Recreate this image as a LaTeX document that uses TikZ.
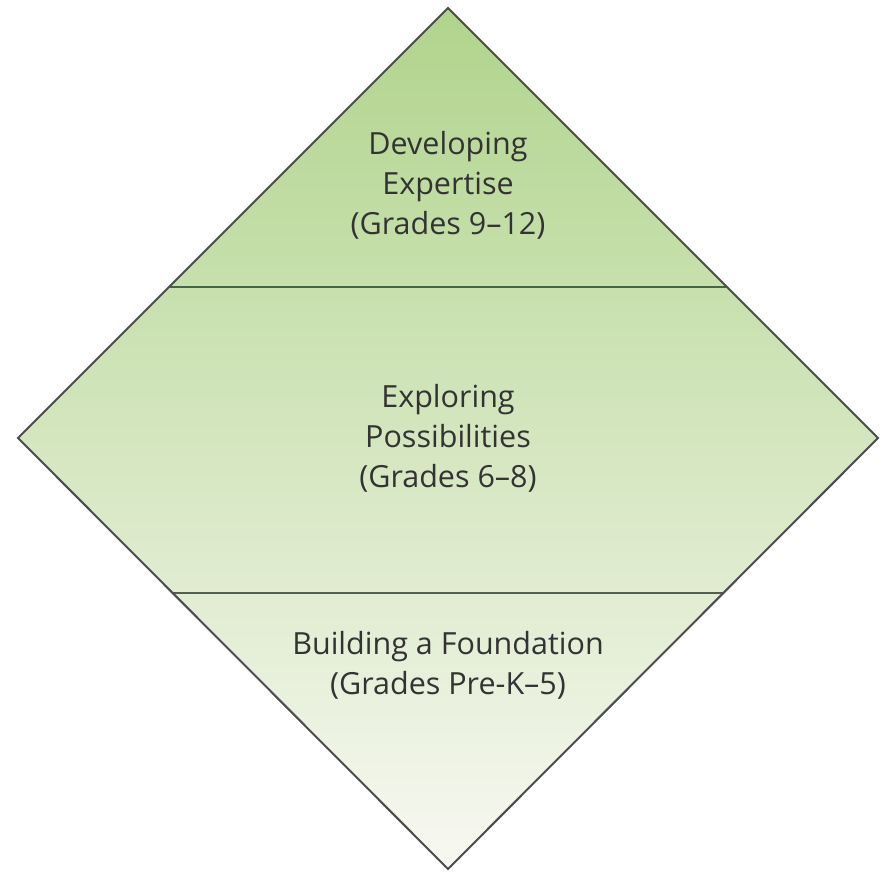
\documentclass[tikz,border=0pt]{standalone}
\usepackage{fontspec}
\setmainfont{Open Sans}
\begin{document}
\begin{tikzpicture}[x=1pt,y=1pt,
  lbl/.style={align=center,text=black!80,font=\fontsize{30.5}{40}\selectfont},
  edge/.style={draw=black!70,line width=2pt,line join=miter}]
\useasboundingbox (0,0) rectangle (884,871);
\fill[white] (0,0) rectangle (884,871);
\coordinate (T) at (448,863);
\coordinate (L) at (18,433);
\coordinate (R) at (878,433);
\coordinate (B) at (448,2);
\shade[top color={rgb,255:red,176;green,212;blue,140}, middle color={rgb,255:red,205;green,228;blue,180}, bottom color={rgb,255:red,248;green,248;blue,242}] (T) -- (R) -- (B) -- (L) -- cycle;
\coordinate (a1) at (170,584);
\coordinate (a2) at (726,584);
\coordinate (b1) at (173,278);
\coordinate (b2) at (723,278);
\draw[draw={rgb,255:red,70;green,100;blue,70},line width=2pt] (a1) -- (a2);
\draw[draw={rgb,255:red,80;green,95;blue,80},line width=2pt] (b1) -- (b2);
\draw[edge] (T) -- (R) -- (B) -- (L) -- cycle;
\node[lbl] (top) at (448,686) {Developing\\Expertise\\(Grades 9--12)};
\node[lbl] (mid) at (448,433) {Exploring\\Possibilities\\(Grades 6--8)};
\node[lbl] (bot) at (448,206) {Building a Foundation\\(Grades Pre-K--5)};
\end{tikzpicture}
\end{document}
